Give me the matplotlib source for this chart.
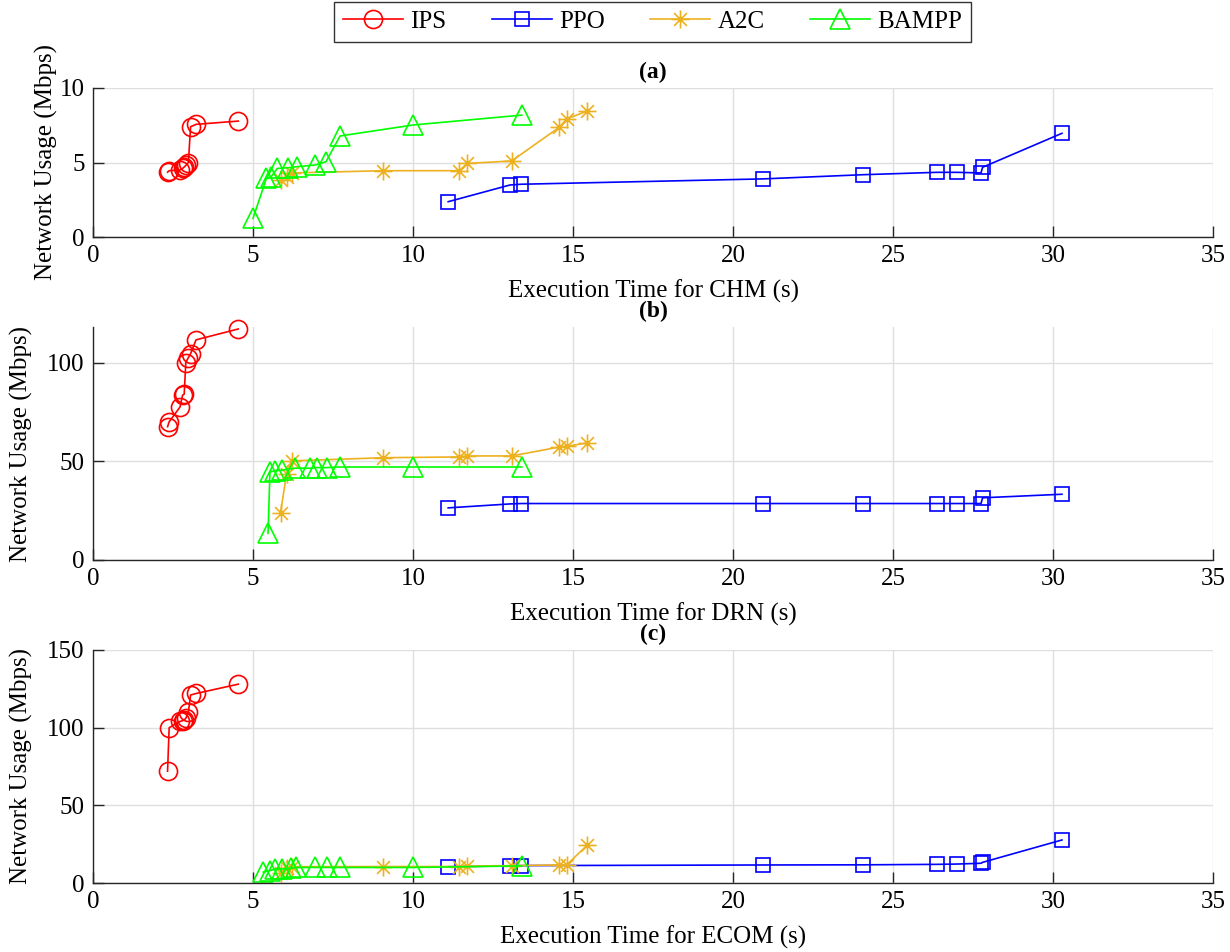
import matplotlib
matplotlib.use("Agg")
import matplotlib.pyplot as plt
from matplotlib.path import Path

plt.rcParams['font.family'] = ['Liberation Serif', 'DejaVu Serif']
plt.rcParams['mathtext.fontset'] = 'stix'

# ---------------- data ----------------
ips_x = [2.33, 2.38, 2.72, 2.80, 2.85, 2.90, 2.98, 3.05, 3.22, 4.54]
ips_a = [4.35, 4.45, 4.50, 4.60, 4.70, 4.80, 5.00, 7.40, 7.56, 7.78]
ips_b = [67.5, 70.0, 77.5, 83.5, 84.0, 100.0, 102.5, 104.5, 111.5, 117.0]
ips_c = [72.0, 100.0, 104.0, 104.5, 105.0, 106.0, 110.0, 121.0, 122.0, 128.0]

ppo_x = [11.1, 13.03, 13.37, 20.95, 24.05, 26.36, 27.0, 27.75, 27.8, 30.28]
ppo_a = [2.37, 3.49, 3.54, 3.90, 4.18, 4.34, 4.34, 4.30, 4.68, 6.96]
ppo_b = [26.4, 28.4, 28.6, 28.6, 28.6, 28.6, 28.6, 28.6, 31.5, 33.3]
ppo_c = [10.5, 11.0, 11.2, 11.6, 11.7, 12.0, 12.2, 12.7, 13.3, 27.7]

a2c_x = [5.86, 6.05, 6.21, 9.07, 11.44, 11.70, 13.08, 14.57, 14.80, 15.45]
a2c_a = [3.80, 4.05, 4.30, 4.45, 4.45, 4.94, 5.10, 7.36, 7.92, 8.46]
a2c_b = [23.9, 43.8, 50.2, 51.8, 52.2, 52.7, 52.7, 57.2, 57.6, 59.3]
a2c_c = [6.5, 9.5, 10.5, 10.6, 10.6, 10.9, 11.2, 11.6, 11.6, 24.5]

bam_xa = [5.00, 5.42, 5.55, 5.76, 6.10, 6.37, 6.94, 7.28, 7.72, 10.01, 13.40]
bam_a = [1.25, 3.95, 4.00, 4.60, 4.65, 4.72, 4.83, 5.05, 6.78, 7.52, 8.18]
bam_xb = [5.47, 5.53, 5.69, 5.90, 6.31, 6.78, 7.00, 7.30, 7.72, 10.01, 13.40]
bam_b = [13.5, 44.6, 45.2, 45.5, 46.5, 46.5, 46.8, 46.8, 47.1, 47.1, 47.1]
bam_xc = [5.32, 5.53, 5.70, 5.90, 6.20, 6.35, 6.95, 7.30, 7.72, 10.01, 13.40]
bam_c = [7.0, 8.0, 9.0, 9.0, 9.5, 10.0, 10.0, 10.0, 10.0, 10.0, 11.0]

labels = ['IPS', 'PPO', 'A2C', 'BAMPP']
panel_titles = ['(a)', '(b)', '(c)']
xlabels = ['Execution Time for CHM (s)', 'Execution Time for DRN (s)',
           'Execution Time for ECOM (s)']
ylabel = 'Network Usage (Mbps)'
xticks = [0, 5, 10, 15, 20, 25, 30, 35]
yticks = [[0, 5, 10], [0, 50, 100], [0, 50, 100, 150]]
ylims = [(0, 10), (0, 118), (0, 150)]

# ---------------- styles ----------------
ast = Path([(-1, 0), (1, 0), (0, -1), (0, 1),
            (-0.707, -0.707), (0.707, 0.707), (-0.707, 0.707), (0.707, -0.707)],
           [Path.MOVETO, Path.LINETO] * 4)
styles = [
    dict(color='#ff0000', marker='o', ms=13),
    dict(color='#0000ff', marker='s', ms=10),
    dict(color='#EDB120', marker=ast, ms=13),
    dict(color='#00ff00', marker='^', ms=14),
]

fig = plt.figure(figsize=(12.3, 9.52), dpi=100)
W, H = 1230, 952
boxes = [(88, 237), (327, 560), (650, 883)]
left, right = 93, 1213

data = [
    [(ips_x, ips_a), (ppo_x, ppo_a), (a2c_x, a2c_a), (bam_xa, bam_a)],
    [(ips_x, ips_b), (ppo_x, ppo_b), (a2c_x, a2c_b), (bam_xb, bam_b)],
    [(ips_x, ips_c), (ppo_x, ppo_c), (a2c_x, a2c_c), (bam_xc, bam_c)],
]
ylabelpads = [1, 10, 10]

handles = None
for i, (top, bot) in enumerate(boxes):
    ax = fig.add_axes([left / W, (H - bot) / H, (right - left) / W, (bot - top) / H])
    hs = []
    for (xs, ys), st, lab in zip(data[i], styles, labels):
        h, = ax.plot(xs, ys, color=st['color'], marker=st['marker'],
                     markersize=st['ms'], markerfacecolor='none',
                     markeredgecolor=st['color'], markeredgewidth=1.2,
                     linewidth=1.2, label=lab, clip_on=False)
        hs.append(h)
    if handles is None:
        handles = hs
    ax.set_xlim(0, 35)
    ax.set_ylim(*ylims[i])
    ax.set_xticks(xticks)
    ax.set_yticks(yticks[i])
    ax.grid(True, color='#dfdfdf', linewidth=1.0)
    ax.set_axisbelow(True)
    for s in ['top', 'right']:
        ax.spines[s].set_visible(False)
    for s in ['left', 'bottom']:
        ax.spines[s].set_color('#262626')
        ax.spines[s].set_linewidth(1.0)
    ax.tick_params(direction='in', length=8, width=1.0, colors='#262626',
                   labelsize=18, labelcolor='black', pad=6)
    ax.set_xlabel(xlabels[i], fontsize=18, labelpad=9)
    ax.set_ylabel(ylabel, fontsize=18, labelpad=ylabelpads[i])
    ax.set_title(panel_titles[i], fontsize=17, fontweight='bold', pad=7)

leg = fig.legend(handles, labels, loc='upper center', ncol=4,
                 bbox_to_anchor=(0.5305, 0.998), borderaxespad=0.0,
                 fontsize=18, frameon=True,
                 fancybox=False, edgecolor='black', handlelength=2.4,
                 columnspacing=1.8, handletextpad=0.3, borderpad=0.35)
leg.get_frame().set_linewidth(1.0)

fig.savefig('out.png', dpi=100)
